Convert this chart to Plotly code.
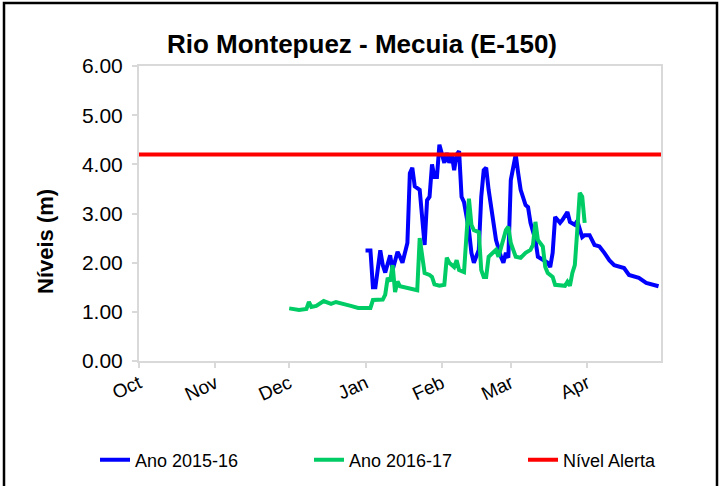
import plotly.graph_objects as go

# season axis: Oct -> Apr, both years drawn on the same calendar
month_ticks = ["10-01", "11-01", "12-01", "01-01", "02-01", "03-01", "04-01"]
month_labels = ["Oct", "Nov", "Dec", "Jan", "Feb", "Mar", "Apr"]

# Ano 2015-16 (levels in m)
dates_1516 = [
    "01-01", "01-03", "01-04", "01-05", "01-07", "01-08", "01-09", "01-11", "01-12", "01-14",
    "01-15", "01-16", "01-18", "01-19", "01-20", "01-21", "01-23", "01-25", "01-26", "01-27",
    "01-28", "01-29", "01-30", "01-31", "02-02", "02-03", "02-04", "02-05", "02-06", "02-07",
    "02-08", "02-09", "02-10", "02-12", "02-13", "02-14", "02-16", "02-17", "02-18", "02-19",
    "02-20", "02-21", "02-22", "02-23", "02-25", "02-26", "02-27", "02-28", "03-01", "03-02",
    "03-03", "03-04", "03-05", "03-07", "03-08", "03-09", "03-11", "03-12", "03-14", "03-16",
    "03-17", "03-18", "03-19", "03-21", "03-22", "03-24", "03-25", "03-27", "03-28", "03-30",
    "03-31", "04-02", "04-04", "04-06", "04-08", "04-10", "04-12", "04-16", "04-18", "04-22",
    "04-25", "04-28", "04-30",
]
levels_1516 = [
    2.25, 2.25, 1.50, 1.50, 2.25, 1.95, 1.80, 2.15, 1.85, 2.22,
    2.12, 2.00, 2.40, 3.82, 3.93, 3.55, 3.48, 2.36, 3.27, 3.34,
    4.00, 3.74, 3.74, 4.40, 4.03, 4.23, 4.03, 4.20, 3.88, 4.20,
    4.27, 3.34, 3.23, 2.66, 2.20, 2.00, 2.26, 3.34, 3.88, 3.93,
    3.48, 3.13, 2.81, 2.46, 2.12, 2.00, 2.20, 2.10, 3.68, 4.00,
    4.20, 3.82, 3.48, 3.17, 3.13, 2.81, 2.46, 2.12, 2.05, 2.00,
    1.91, 2.20, 2.93, 2.81, 2.87, 3.03, 2.83, 2.77, 2.85, 2.52,
    2.56, 2.56, 2.36, 2.33, 2.20, 2.05, 1.95, 1.89, 1.75, 1.69,
    1.59, 1.55, 1.52,
]

# Ano 2016-17 (levels in m)
dates_1617 = [
    "12-01", "12-05", "12-08", "12-09", "12-10", "12-12", "12-15", "12-18", "12-20", "12-23",
    "12-26", "12-29", "01-01", "01-03", "01-04", "01-08", "01-09", "01-10", "01-11", "01-12",
    "01-13", "01-14", "01-15", "01-17", "01-20", "01-22", "01-23", "01-24", "01-25", "01-27",
    "01-28", "01-29", "01-31", "02-02", "02-03", "02-04", "02-06", "02-07", "02-08", "02-10",
    "02-12", "02-13", "02-14", "02-16", "02-17", "02-18", "02-19", "02-20", "02-22", "02-23",
    "02-24", "02-26", "02-27", "02-28", "03-01", "03-02", "03-03", "03-05", "03-07", "03-09",
    "03-10", "03-11", "03-12", "03-14", "03-15", "03-16", "03-18", "03-19", "03-21", "03-23",
    "03-24", "03-25", "03-26", "03-27", "03-28", "03-29", "03-30", "03-31",
]
levels_1617 = [
    1.07, 1.04, 1.06, 1.20, 1.10, 1.12, 1.22, 1.16, 1.20, 1.17,
    1.12, 1.08, 1.08, 1.08, 1.24, 1.25, 1.35, 1.69, 1.62, 1.95,
    1.40, 1.62, 1.52, 1.50, 1.46, 1.44, 2.50, 2.10, 1.79, 1.75,
    1.71, 1.56, 1.53, 1.55, 2.10, 2.00, 1.91, 2.05, 1.85, 1.81,
    3.30, 2.77, 2.66, 2.62, 1.85, 1.71, 1.71, 2.12, 2.20, 2.26,
    2.12, 2.46, 2.66, 2.73, 2.40, 2.26, 2.12, 2.10, 2.20, 2.26,
    2.36, 2.83, 2.46, 2.33, 1.91, 1.79, 1.71, 1.55, 1.53, 1.53,
    1.61, 1.53, 1.79, 1.95, 2.66, 3.42, 3.34, 2.81,
]

alert_level = 4.2
season_span = ["10-01", "05-01"]


def season(md):
    # put month-day on the shared Oct..Apr axis
    month = int(md[:2])
    year = 2016 if month >= 10 else 2017
    return f"{year}-{md}"


FONT = "Arial, Liberation Sans, sans-serif"

fig = go.Figure()
fig.add_trace(go.Scatter(x=[season(d) for d in dates_1516], y=levels_1516, mode="lines", name="Ano 2015-16",
                         line=dict(color="#0000FF", width=4)))
fig.add_trace(go.Scatter(x=[season(d) for d in dates_1617], y=levels_1617, mode="lines", name="Ano 2016-17",
                         line=dict(color="#00CC66", width=4)))
fig.add_trace(go.Scatter(x=[season(d) for d in season_span], y=[alert_level, alert_level], mode="lines",
                         name="Nível Alerta", line=dict(color="#FF0000", width=4)))

axis_grey = "#D9D9D9"
fig.update_xaxes(type="date", range=[season(d) for d in season_span],
                 tickvals=[season(d) for d in month_ticks], ticktext=month_labels, tickangle=-25,
                 ticks="outside", ticklen=5, tickwidth=2, tickcolor=axis_grey, ticklabelstandoff=-3,
                 showline=True, linecolor=axis_grey, linewidth=2, mirror=True, showgrid=False,
                 tickfont=dict(family=FONT, size=19, color="black"))
fig.update_yaxes(range=[0, 6], dtick=1, tickformat=".2f",
                 ticks="outside", ticklen=5, tickwidth=2, tickcolor=axis_grey, ticklabelstandoff=5,
                 showline=True, linecolor=axis_grey, linewidth=2, mirror=True, showgrid=False, zeroline=False,
                 tickfont=dict(family=FONT, size=21, color="black"))

# plot area in pixels: x 139..661, y 66..361
L, R, T, B = 139, 62, 66, 125
W, H = 723, 486
pw, ph = W - L - R, H - T - B

fig.update_layout(
    width=W, height=H,
    margin=dict(l=L, r=R, t=T, b=B, autoexpand=False),
    paper_bgcolor="white", plot_bgcolor="white",
    title=dict(text="<b>Rio Montepuez - Mecuia (E-150)</b>", x=362 / W, xanchor="center",
               y=1 - 44 / H, yanchor="middle", font=dict(family=FONT, size=26, color="black")),
    showlegend=True,
    legend=dict(orientation="h", x=(95 - L) / pw, xanchor="left", y=(H - B - 460) / ph, yanchor="middle",
                font=dict(family=FONT, size=18, color="black"), entrywidth=169, entrywidthmode="pixels",
                bgcolor="rgba(0,0,0,0)"),
    annotations=[dict(text="<b>Níveis (m)</b>", textangle=-90, xref="paper", yref="paper",
                      x=(46 - L) / pw, y=(H - B - 242) / ph, xanchor="center", yanchor="middle",
                      showarrow=False, font=dict(family=FONT, size=22, color="black"))],
    shapes=[dict(type="rect", xref="paper", yref="paper", layer="above",
                 x0=(4 - L) / pw, x1=(717 - L) / pw, y0=(H - B - 495) / ph, y1=(H - B - 3) / ph,
                 line=dict(color="black", width=2.5))],
)

# the page's default 8px body margin would shift the whole chart
fig.write_html("out.html", config={"displayModeBar": False},
               post_script="document.body.style.margin='0';")
